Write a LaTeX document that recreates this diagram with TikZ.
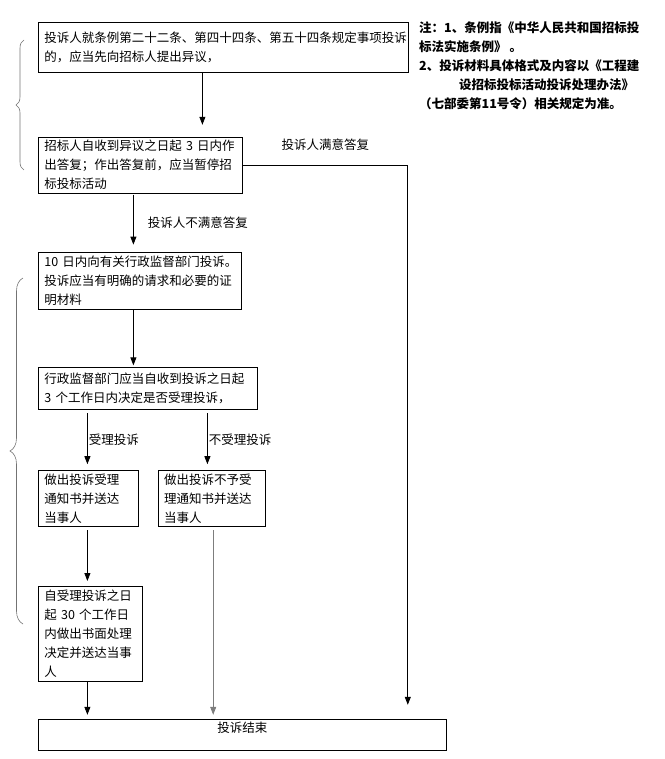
\documentclass[tikz,border=0pt]{standalone}
\usepackage{fontspec}
\setmainfont{Noto Sans CJK SC}
\usepackage{tikz}
\usetikzlibrary{
    arrows.meta,
    positioning,
    calc,
    decorations.pathreplacing
}
\definecolor{Cgray}{RGB}{125, 125, 125}
\definecolor{Cbrace}{RGB}{115, 115, 115}
\tikzset{
    tbox/.style={
        rectangle, draw=black, line width=0.8pt, fill=white, text=black,
        anchor=north west, align=left, inner xsep=6pt, inner ysep=0pt,
        font=\fontsize{12.5}{19}\selectfont
    },
    tnote/.style={
        anchor=north west, align=left, inner sep=0pt,
        font=\fontsize{12.5}{19}\selectfont\bfseries
    },
    tlab/.style={font=\fontsize{12.5}{15}\selectfont, inner sep=1pt},
    tarr/.style={-{Triangle[length=8pt, width=6pt]}, line width=0.8pt, black},
    tbrace/.style={decorate, decoration={brace, amplitude=#1}, line width=0.6pt, Cbrace},
}

\begin{document}
\begin{tikzpicture}[x=1pt, y=-1pt]
    \useasboundingbox (0,0) rectangle (664,759);

    % ── 流程节点 ──────────────────────────────────────
    \node [tbox, text width=358pt, minimum height=50pt] (objection) at (38,22)
        {投诉人就条例第二十二条、第四十四条、第五十四条规定事项投诉\\的，应当先向招标人提出异议，};
    \node [tbox, text width=192pt, minimum height=56pt, below=64pt of objection.south west, anchor=north west]
        (reply) {招标人自收到异议之日起~3~日内作\\出答复；作出答复前，应当暂停招\\标投标活动};
    \node [tbox, text width=191pt, minimum height=57pt, below=58pt of reply.south west, anchor=north west]
        (complain) {10~日内向有关行政监督部门投诉。\\投诉应当有明确的请求和必要的证\\明材料};
    \node [tbox, text width=207pt, minimum height=42pt, below=58pt of complain.south west, anchor=north west]
        (decide) {行政监督部门应当自收到投诉之日起\\3~个工作日内决定是否受理投诉，};
    \node [tbox, text width=88pt, minimum height=56pt, below=60pt of decide.south west, anchor=north west]
        (accept) {做出投诉受理\\通知书并送达\\当事人};
    \node [tbox, text width=95pt, minimum height=56pt, right=19pt of accept, anchor=west]
        (reject) {做出投诉不予受\\理通知书并送达\\当事人};
    \node [tbox, text width=92pt, minimum height=95pt, below=59pt of accept.south west, anchor=north west]
        (handle) {自受理投诉之日\\起~30~个工作日\\内做出书面处理\\决定并送达当事\\人};
    \node [tbox, text width=396pt, align=center, inner ysep=1.5pt, text height=11.5pt, text depth=16.5pt,
        below=37pt of handle.south west, anchor=north west]
        (finish) {投诉结束};

    % ── 注释 ─────────────────────────────────────────
    \node [tnote] (note) at (419,22)
        {注：1、条例指《中华人民共和国招标投\\
         标法实施条例》 。\\
         2、投诉材料具体格式及内容以《工程建\\
         \hspace*{3.2em}设招标投标活动投诉处理办法》\\
         （七部委第11号令）相关规定为准。};

    % ── 箭头 ─────────────────────────────────────────
    \coordinate (rturn) at ([xshift=-39pt]finish.north east |- reply.east);
    \draw [tarr, shorten >=12pt] ([xshift=-21pt]objection.south) -- ([xshift=-21pt]objection.south |- reply.north);
    \draw [tarr, shorten >=14pt] (reply.east) -- node[tlab, above=13pt]{投诉人满意答复} (rturn) -- (rturn |- finish.north);
    \draw [tarr, shorten <=1pt, shorten >=7pt] ([xshift=-7pt]reply.south) -- node[tlab, right=13pt]{投诉人不满意答复} ([xshift=-7pt]reply.south |- complain.north);
    \draw [tarr, shorten <=1pt, shorten >=2pt] ([xshift=-6.5pt]complain.south) -- ([xshift=-6.5pt]complain.south |- decide.north);
    \draw [tarr, shorten <=3pt, shorten >=6pt] ([xshift=-60.5pt]decide.south) -- node[tlab, right=0pt]{受理投诉} ([xshift=-60.5pt]decide.south |- accept.north);
    \draw [tarr, shorten <=3pt, shorten >=6pt] ([xshift=59.5pt]decide.south) -- node[tlab, right=0pt]{不受理投诉} ([xshift=59.5pt]decide.south |- reject.north);
    \draw [tarr, shorten <=3pt, shorten >=5pt] ([xshift=-1pt]accept.south) -- ([xshift=-1pt]accept.south |- handle.north);
    \draw [tarr, Cgray, shorten <=3pt, shorten >=4pt] ([xshift=1.5pt]reject.south) -- ([xshift=1.5pt]reject.south |- finish.north);
    \draw [tarr, shorten >=4pt] ([xshift=-3pt]handle.south) -- ([xshift=-3pt]handle.south |- finish.north);

    % ── 大括号 ───────────────────────────────────────
    \draw [tbrace=8pt] (24,170) -- (24,40);
    \draw [tbrace=13pt] (23,624) -- (23,278);

\end{tikzpicture}
\end{document}
